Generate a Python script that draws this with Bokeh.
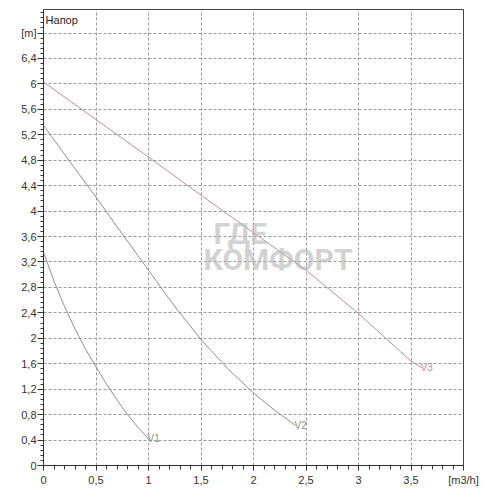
from bokeh.plotting import figure
from bokeh.models import Range1d, FixedTicker, Label
from bokeh.core.properties import value
from bokeh.embed import file_html
from bokeh.resources import INLINE

# Data (flow m3/h, head m)
v1_q = [0.0, 0.1, 0.2, 0.3, 0.4, 0.5, 0.6, 0.7, 0.8, 0.9, 1.0]
v1_h = [3.35, 2.90, 2.50, 2.15, 1.83, 1.55, 1.28, 1.03, 0.80, 0.60, 0.42]

v2_q = [0.0, 0.25, 0.5, 0.75, 1.0, 1.25, 1.5, 1.75, 2.0, 2.2, 2.4]
v2_h = [5.35, 4.78, 4.22, 3.64, 3.07, 2.50, 1.98, 1.53, 1.14, 0.87, 0.63]

v3_q = [0.0, 0.5, 1.0, 1.5, 2.0, 2.5, 3.0, 3.5, 3.6]
v3_h = [6.03, 5.44, 4.85, 4.25, 3.66, 3.07, 2.39, 1.64, 1.54]

series_names = ["V1", "V2", "V3"]
series_colors = ["#8e8e8e", "#8e8e8e", "#bb8c98"]

x_ticks = [0, 0.5, 1, 1.5, 2, 2.5, 3, 3.5, 4]
x_labels = ["0", "0,5", "1", "1,5", "2", "2,5", "3", "3,5", "[m3/h]"]
y_ticks = [0, 0.4, 0.8, 1.2, 1.6, 2.0, 2.4, 2.8, 3.2, 3.6, 4.0, 4.4, 4.8, 5.2, 5.6, 6.0, 6.4, 6.8]
y_labels = ["0", "0,4", "0,8", "1,2", "1,6", "2", "2,4", "2,8", "3,2", "3,6", "4",
            "4,4", "4,8", "5,2", "5,6", "6", "6,4", "[m]"]

W, H = 480, 488
p = figure(width=W, height=H, output_backend="svg", toolbar_location=None,
           x_range=Range1d(0, 4), y_range=Range1d(0, 7.17),
           min_border_left=43, min_border_right=17, min_border_top=9, min_border_bottom=22)

p.background_fill_color = "white"
p.border_fill_color = "white"
p.outline_line_color = "#444444"
p.outline_line_width = 1

for ax, ticks, labels in ((p.xaxis[0], x_ticks, x_labels), (p.yaxis[0], y_ticks, y_labels)):
    ax.major_label_overrides = {t: l for t, l in zip(ticks, labels)}
    ax.axis_line_color = "#333333"
    ax.major_tick_line_color = "#333333"
    ax.minor_tick_line_color = "#333333"
    ax.major_label_text_font = "Liberation Sans"
    ax.major_label_text_font_size = "11px"
    ax.major_label_text_color = "#333333"

p.xaxis[0].ticker = FixedTicker(ticks=x_ticks, minor_ticks=[i * 0.1 for i in range(41)])
p.yaxis[0].ticker = FixedTicker(ticks=y_ticks, minor_ticks=[i * 0.08 for i in range(90)])
p.xaxis.major_tick_out = 5
p.xaxis.major_tick_in = 0
p.xaxis.minor_tick_out = 4
p.xaxis.minor_tick_in = 0
p.xaxis.major_label_standoff = 3
p.yaxis.major_tick_out = 6
p.yaxis.major_tick_in = 0
p.yaxis.minor_tick_out = 3
p.yaxis.minor_tick_in = 0
p.yaxis.major_label_standoff = 1

p.grid.grid_line_color = "#9a9a9a"
p.grid.grid_line_dash = "3 2"
p.grid.grid_line_width = 1

# watermark (screen units are relative to the plot frame)
p.add_layout(Label(x=170, y=215, x_units="screen", y_units="screen", text="ГДЕ",
                   text_font="Roboto", text_font_style="bold", text_font_size="30px",
                   text_color="#b4b4b4", text_alpha=0.6))
p.add_layout(Label(x=160, y=189, x_units="screen", y_units="screen", text="КОМФОРТ",
                   text_font="Roboto", text_font_style="bold", text_font_size="30px",
                   text_color="#b4b4b4", text_alpha=0.6))

for q, h, name, col in zip((v1_q, v2_q, v3_q), (v1_h, v2_h, v3_h), series_names, series_colors):
    p.line(q, h, line_color=col, line_width=1)
    p.text(x=[q[-1]], y=[h[-1]], text=[name], text_color=col, text_font=value("Liberation Sans"),
           text_font_size="10px", text_baseline="middle", text_align="left", x_offset=-1)

p.add_layout(Label(x=0.02, y=7.0, text="Напор", text_font="Liberation Sans",
                   text_font_size="11px", text_color="#222222", text_baseline="middle"))

open("out.html", "w").write(file_html(p, INLINE))
